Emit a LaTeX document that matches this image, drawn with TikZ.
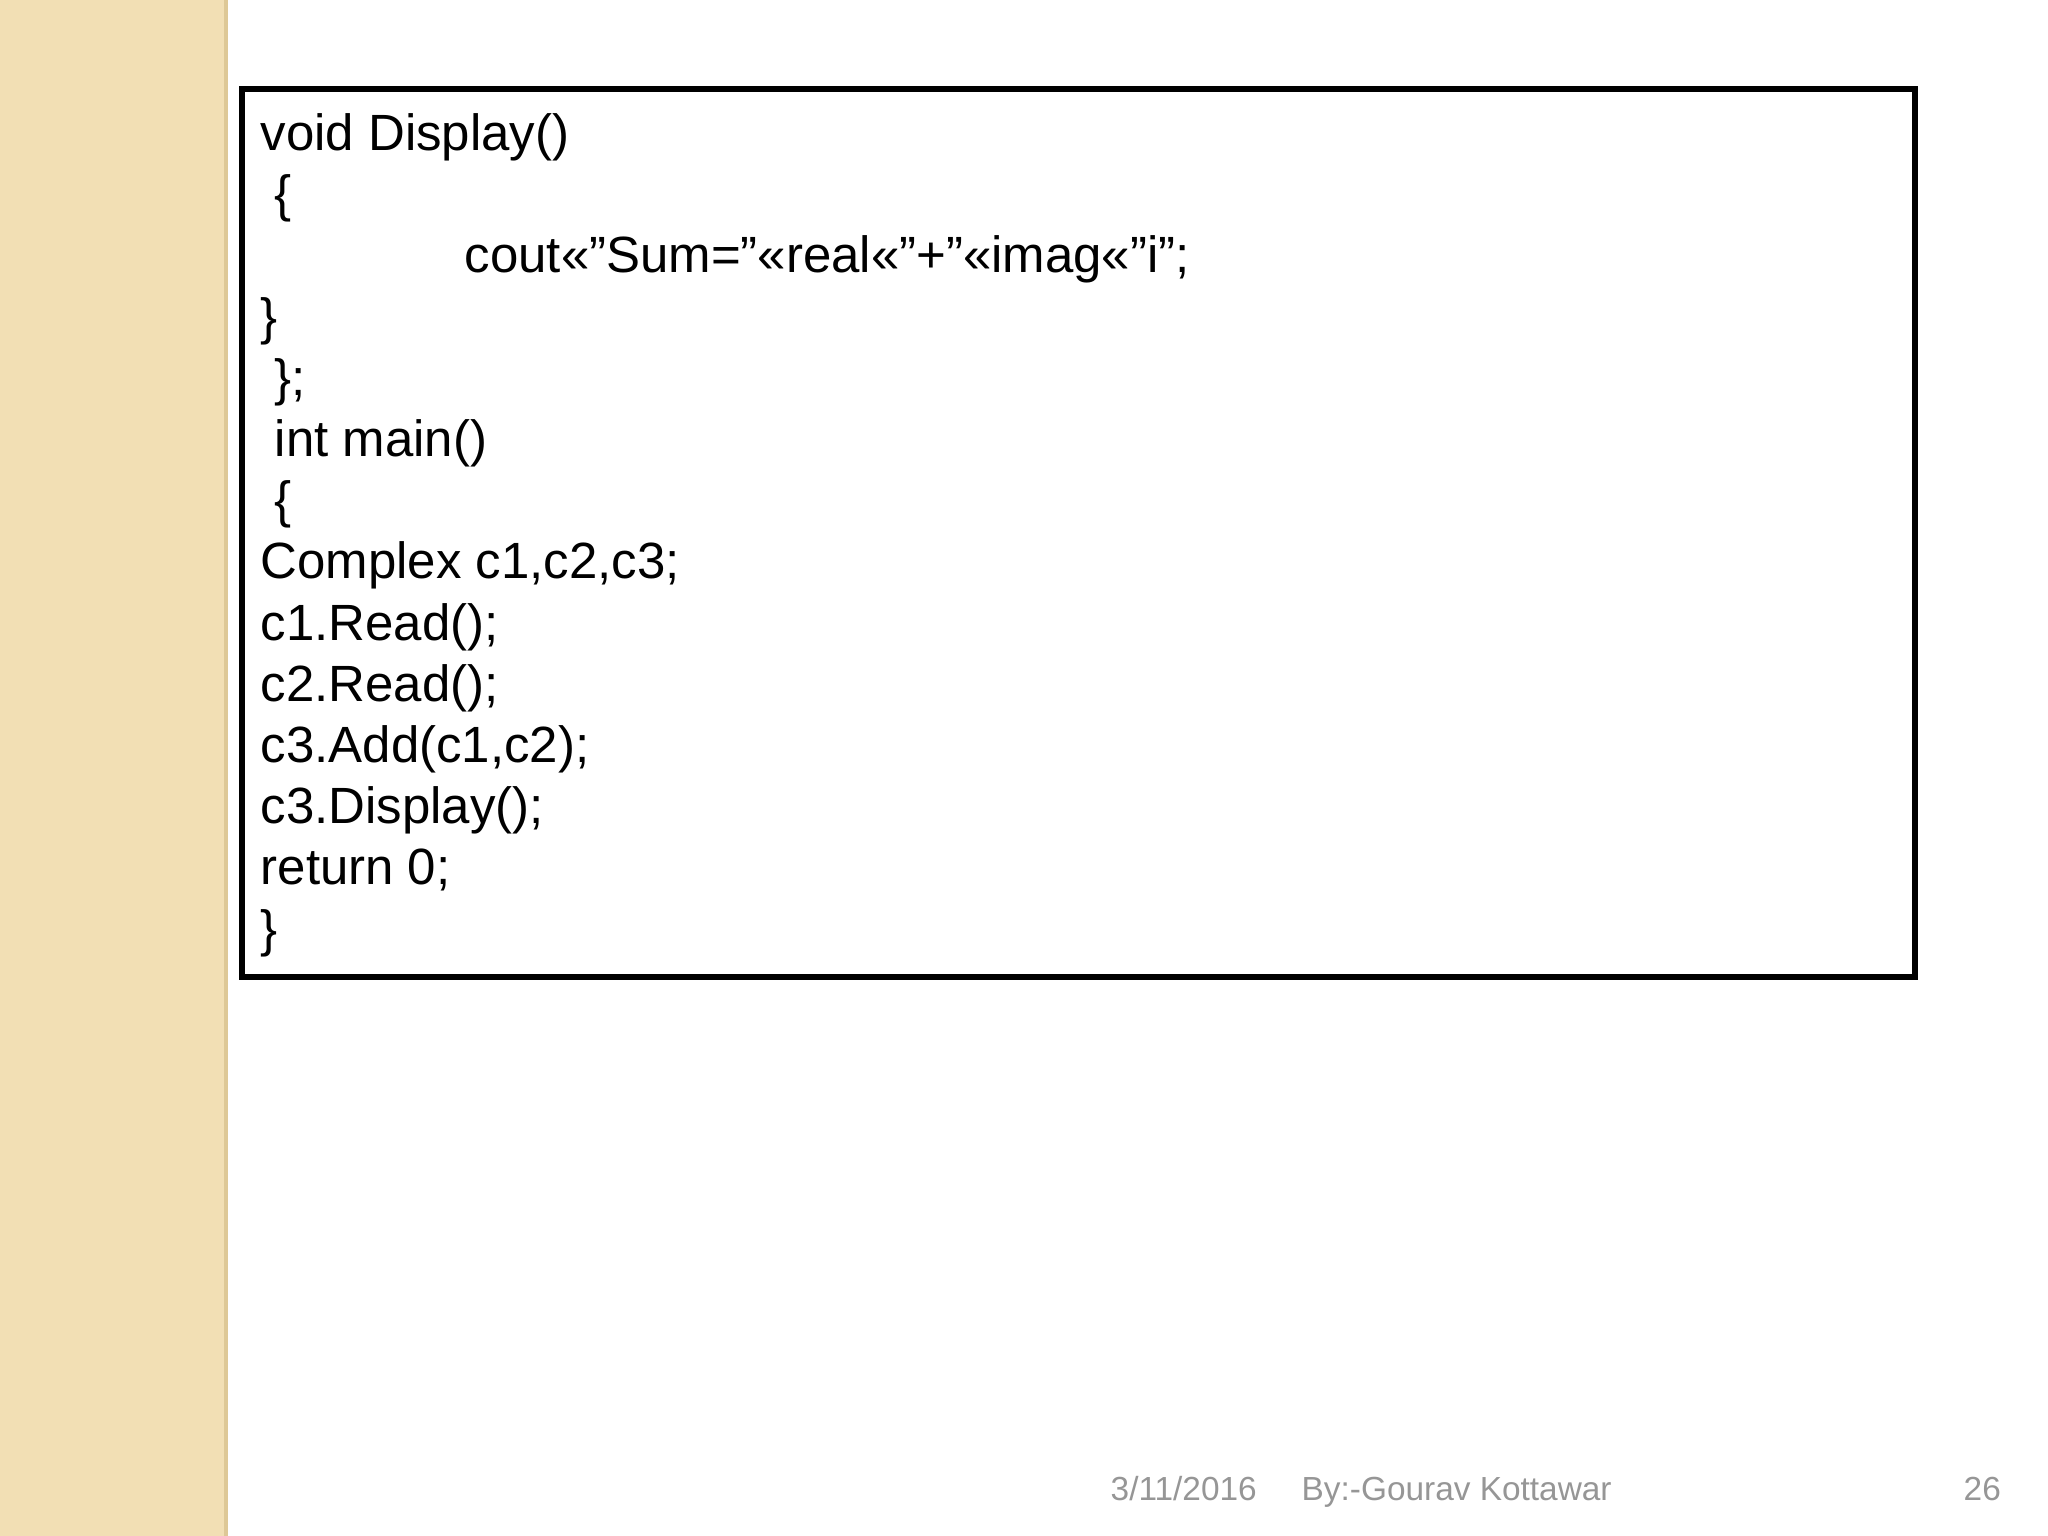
\documentclass[tikz,border=0pt]{standalone}
\usepackage{fontspec}
\setmainfont{Liberation Sans}
\definecolor{stripbeige}{RGB}{242,223,180}
\definecolor{stripedge}{RGB}{222,200,150}
\definecolor{footgray}{RGB}{150,150,150}
\tikzset{
  codeline/.style={anchor=base west, inner sep=0pt, font={\fontsize{14.5}{17}\selectfont}},
  footer/.style={anchor=base west, inner sep=0pt, text=footgray, font={\fontsize{9.5}{11}\selectfont}}
}
\begin{document}
\begin{tikzpicture}
  \useasboundingbox (0,0) rectangle (20.48,15.36);
  % side strip
  \fill[stripbeige] (0,0) rectangle (2.26,15.36);
  \draw[stripedge, line width=1pt] (2.26,0) -- (2.26,15.36);
  % code box
  \node[draw, line width=1.6pt, minimum width=16.73cm, minimum height=8.88cm, anchor=north west, inner sep=0pt] (codebox) at (2.39,14.50) {};
  \foreach \x/\t [count=\n] in {2.6/{void Display()},2.74/{\{},4.64/{cout<<"Sum="<<real<<"+"<<imag<<"i";},2.6/{\}},2.74/{\};},2.74/{int main()},2.74/{\{},2.6/{Complex c1,c2,c3;},2.6/{c1.Read();},2.6/{c2.Read();},2.6/{c3.Add(c1,c2);},2.6/{c3.Display();},2.6/{return 0;},2.6/{\}}} {
    \pgfmathsetmacro{\yb}{15.36-1.506-0.612*(\n-1)}
    \node[codeline] (line\n) at (\x,\yb) {\t};
  }
  % footer
  \node[footer] (date) at (11.10,0.35) {3/11/2016};
  \node[footer] (author) at (13.01,0.35) {By:-Gourav Kottawar};
  \node[footer] (page) at (19.63,0.35) {26};
\end{tikzpicture}
\end{document}
